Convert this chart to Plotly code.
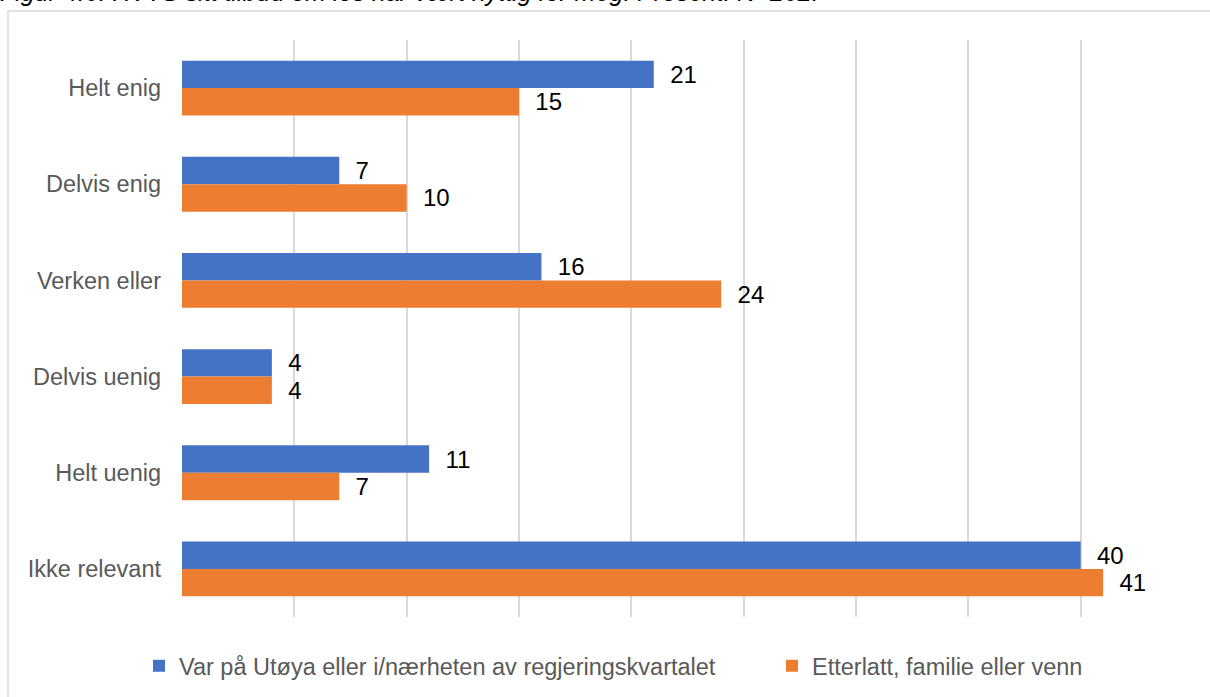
import plotly.graph_objects as go

categories = ["Helt enig", "Delvis enig", "Verken eller", "Delvis uenig", "Helt uenig", "Ikke relevant"]
series_names = ["Var på Utøya eller i/nærheten av regjeringskvartalet", "Etterlatt, familie eller venn"]
utoya = [21, 7, 16, 4, 11, 40]
etterlatt = [15, 10, 24, 4, 7, 41]
colors = ["#4472C4", "#ED7D31"]
title_text = "Figur 4.6. RVTS sitt tilbud om los har vært nyttig for meg. Prosent. N=262."

W, H = 1210, 697
L, R, T, B = 182, 17, 40, 80
pw, ph = W - L - R, H - T - B

def px_x(x):
    return (x - L) / pw

def px_y(y):
    return 1 + (T - y) / ph

FONT = "Arial, Liberation Sans, sans-serif"
legend_widths = [588, 280]

fig = go.Figure()
for name, vals, col, lw in zip(series_names, [utoya, etterlatt], colors, legend_widths):
    fig.add_trace(go.Bar(
        y=categories, x=vals, name=name, orientation="h",
        marker=dict(color=col, line=dict(width=0)),
        text=vals, texttemplate="  %{x}", textposition="outside",
        textfont=dict(family=FONT, size=24, color="#000000"),
        cliponaxis=False, legendwidth=lw,
    ))

fig.update_layout(
    width=W, height=H,
    margin=dict(l=L, r=R, t=T, b=B, autoexpand=False),
    paper_bgcolor="white", plot_bgcolor="white",
    barmode="group", bargap=0.43, bargroupgap=0,
    font=dict(family=FONT),
    xaxis=dict(range=[0, 45], dtick=5, showgrid=True, gridcolor="#d9d9d9", gridwidth=2,
               showticklabels=False, zeroline=False, showline=False, ticks="", fixedrange=True),
    yaxis=dict(autorange="reversed", showgrid=False, showline=False, ticks="",
               ticklabelstandoff=20, fixedrange=True,
               tickfont=dict(family=FONT, size=23.5, color="#595959")),
    legend=dict(orientation="h", x=px_x(139), xanchor="left", y=px_y(666), yanchor="middle",
                font=dict(family=FONT, size=23.5, color="#595959"), traceorder="normal"),
    shapes=[dict(type="rect", xref="paper", yref="paper",
                 x0=px_x(8), x1=px_x(1230), y0=px_y(11), y1=px_y(720),
                 line=dict(color="#d9d9d9", width=1.5), fillcolor="rgba(0,0,0,0)", layer="below")],
    annotations=[dict(text="<i>" + title_text + "</i>", xref="paper", yref="paper",
                      x=px_x(-2), y=px_y(8), xanchor="left", yanchor="bottom",
                      showarrow=False, font=dict(family=FONT, size=25, color="#000000"))],
)

fig.write_html("out.html", config={"displayModeBar": False},
               post_script="document.body.style.margin='0';")
